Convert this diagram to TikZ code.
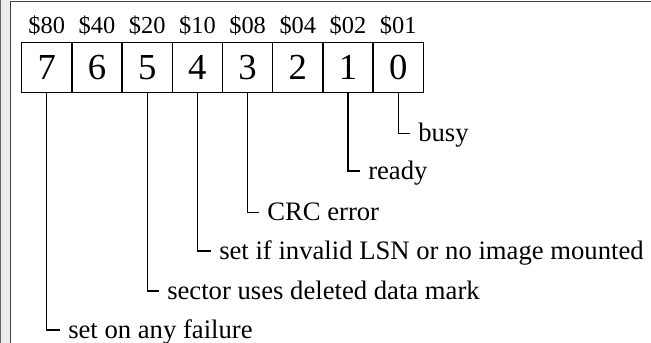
\documentclass[tikz,border=0pt]{standalone}
\usepackage{fontspec}
\setmainfont{Liberation Serif}
\begin{document}
\begin{tikzpicture}[x=0.75pt,y=-0.75pt,
  cell/.style={draw,line width=1.1pt,minimum width=37.65pt,minimum height=37.5pt,inner sep=0pt,font=\fontsize{27.5}{30}\selectfont},
  hdr/.style={anchor=base,inner sep=0pt,font=\fontsize{18.3}{20}\selectfont},
  lbl/.style={anchor=base west,inner sep=0pt,font=\fontsize{20}{24}\selectfont},
  conn/.style={draw,line width=1pt}]
\useasboundingbox (0,0) rectangle (651,343);
% page frame
\fill[black!7] (0,0) rectangle (10,343);
\draw[black!60,line width=0.75pt] (0.5,343) -- (0.5,0);
\draw[black!75,line width=1.1pt] (10.5,343) -- (10.5,1.5) -- (651,1.5);
% cells
\foreach \i in {7,...,0}{
  \pgfmathsetmacro{\cx}{21.7+25.1+(7-\i)*50.2}
  \node[cell] (c\i) at (\cx,67.3) {\i};
}
% headers
\node[hdr] (h7) at (c7 |- 0,33) {\$80};
\node[hdr] (h6) at (c6 |- 0,33) {\$40};
\node[hdr] (h5) at (c5 |- 0,33) {\$20};
\node[hdr] (h4) at (c4 |- 0,33) {\$10};
\node[hdr] (h3) at (c3 |- 0,33) {\$08};
\node[hdr] (h2) at (c2 |- 0,33) {\$04};
\node[hdr] (h1) at (c1 |- 0,33) {\$02};
\node[hdr] (h0) at (c0 |- 0,33) {\$01};
% elbows
\coordinate (e0) at (410,133.3);
\coordinate (e1) at (360,171);
\coordinate (e3) at (259,212.5);
\coordinate (e4) at (211,251);
\coordinate (e5) at (159,291);
\coordinate (e7) at (60,330);
\foreach \i in {0,1,3,4,5,7}{
  \draw[conn] (c\i.south) |- (e\i);
}
\node[lbl] (t0) at (418,141.3) {busy};
\node[lbl] (t1) at (368,179) {ready};
\node[lbl] (t3) at (267,220.5) {CRC error};
\node[lbl] (t4) at (219,259) {set if invalid LSN or no image mounted};
\node[lbl] (t5) at (167,299) {sector uses deleted data mark};
\node[lbl] (t7) at (68,338) {set on any failure};
\end{tikzpicture}
\end{document}
